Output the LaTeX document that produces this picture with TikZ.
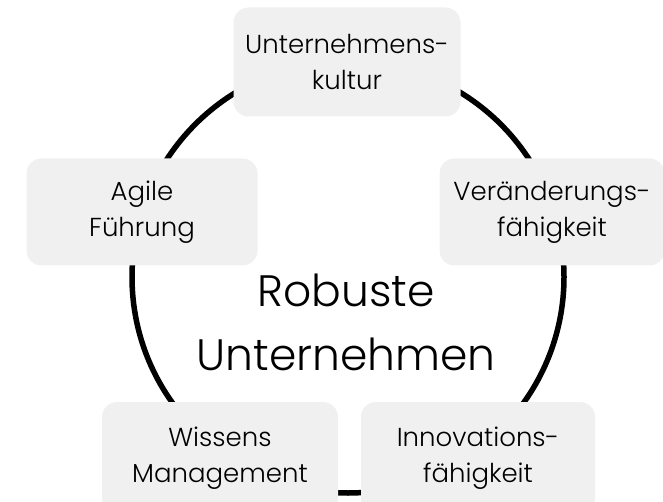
\documentclass[tikz,border=0pt]{standalone}
\usepackage{fontspec}
\setmainfont{Poppins}[UprightFont=* Light]
\usetikzlibrary{positioning}
\definecolor{boxgray}{HTML}{F0F0F0}
\tikzstyle{pillar} = [rectangle, rounded corners=15pt, fill=boxgray, minimum width=231pt, minimum height=107pt, text centered, align=center, font=\fontsize{26}{36}\selectfont]
\tikzstyle{ring} = [line width=5.5pt]
\tikzstyle{core} = [align=center, font=\fontsize{44}{64}\selectfont]

\begin{document}
\begin{tikzpicture}[x=1pt,y=-1pt]
  \clip (0,0) rectangle (663,502);
  \coordinate (mid) at (348,277);
  \draw [ring] (mid) circle (216);

  \node (kultur) [pillar, minimum width=227pt, minimum height=109pt] at (347,62) {Unternehmens-\\kultur};
  \node (agil) [pillar] at (142,212) {Agile\\Führung};
  \node (wandel) [pillar, minimum width=225pt] at (552,212) {Veränderungs-\\fähigkeit};
  \node (wissen) [pillar, minimum width=236pt, minimum height=112pt] at (220,458) {Wissens\\Management};
  \node (innov) [pillar, minimum width=234pt, minimum height=112pt] at (478,458) {Innovations-\\fähigkeit};
  \node (titel) [core] at (346,322) {Robuste\\Unternehmen};
\end{tikzpicture}
\end{document}
